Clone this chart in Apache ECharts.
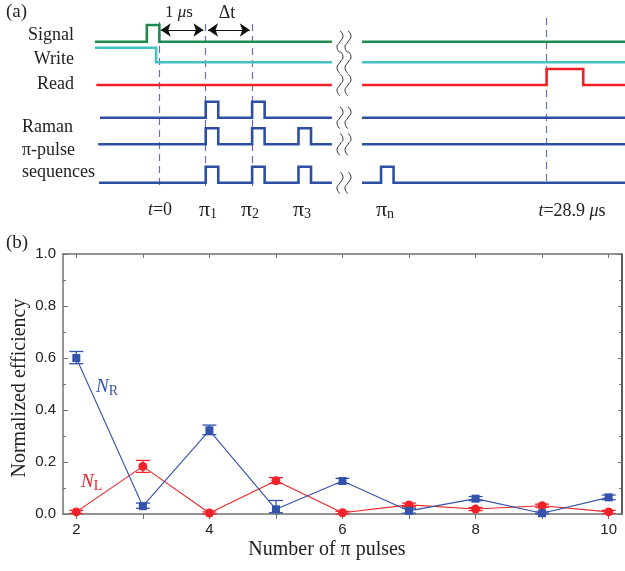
<!DOCTYPE html>
<html><head><meta charset="utf-8">
<script src="https://cdn.jsdelivr.net/npm/echarts@6/dist/echarts.min.js"></script>
<style>html,body{margin:0;padding:0;background:#fff}#c{width:625px;height:571px}</style>
</head><body><div id="c"></div>
<script>
// ---------- (b) data ----------
const pulseCounts = [2, 3, 4, 5, 6, 7, 8, 9, 10];
const xTicks = [2, 3, 4, 5, 6, 7, 8, 9, 10];
const xLabels = [2, 4, 6, 8, 10];
const nR = [0.600, 0.030, 0.322, 0.018, 0.127, 0.012, 0.059, 0.003, 0.064];
const nRLow = [0.578, 0.022, 0.305, 0.005, 0.117, 0.003, 0.051, 0.000, 0.055];
const nRHigh = [0.625, 0.042, 0.342, 0.052, 0.137, 0.022, 0.067, 0.008, 0.073];
const nL = [0.008, 0.183, 0.004, 0.128, 0.005, 0.035, 0.019, 0.032, 0.008];
const nLLow = [0.002, 0.160, 0.000, 0.118, 0.000, 0.028, 0.013, 0.026, 0.002];
const nLHigh = [0.014, 0.206, 0.008, 0.140, 0.010, 0.042, 0.025, 0.038, 0.014];

// ---------- (a) timing data (schematic time units, 1 unit = 1 µs spacing) ----------
const tStart = [-1.39, -1.39, -1.36, -1.28, -1.32, -1.30]; // signal, write, read, raman1-3
const breakFrom = 3.72, breakTo = 4.37, tEnd = 10.1;
const signalPulses = [[-0.27, 0]];
const writeFall = -0.07;
const readPulses = [[8.35, 9.14]];
const pulseWidth = 0.27;
const ramanPulseTimes = [[1, 2], [1, 2, 3], [1, 2, 3, 4.78]];
const markerTimes = [0, 1, 2, 8.35];

// layout (diagram rows, in pixel-like units of the hidden y axis)
const rowBase = [41.7, 62.3, 85, 117.7, 144.3, 182.7];
const rowAmp = [16.7, 14.6, 16, 16, 16, 16];
const rowColor = ['#1f8a50', '#44c2c2', '#ee2024', '#2d4fa3', '#2d4fa3', '#2d4fa3'];

function wave(start, pulses, base, amp, initLevel) {
  const lvl = v => base - v * amp;
  const segs = [[], []];
  const ranges = [[start, breakFrom], [breakTo, tEnd]];
  ranges.forEach((r, i) => {
    const s = segs[i];
    let cur = initLevel;
    s.push([r[0], lvl(cur)]);
    pulses.forEach(p => {
      if (p[0] >= r[0] && p[1] <= r[1]) {
        s.push([p[0], lvl(cur)]); cur = 1 - cur; s.push([p[0], lvl(cur)]);
        s.push([p[1], lvl(cur)]); cur = 1 - cur; s.push([p[1], lvl(cur)]);
      }
    });
    s.push([r[1], lvl(cur)]);
  });
  return segs;
}
function edgeWave(start, fall, base, amp) {
  const lvl = v => base - v * amp;
  return [
    [[start, lvl(1)], [fall, lvl(1)], [fall, lvl(0)], [breakFrom, lvl(0)]],
    [[breakTo, lvl(0)], [tEnd, lvl(0)]]
  ];
}

const waves = [];
waves.push(wave(tStart[0], signalPulses, rowBase[0], rowAmp[0], 0));
waves.push(edgeWave(tStart[1], writeFall, rowBase[1], rowAmp[1]));
waves.push(wave(tStart[2], readPulses, rowBase[2], rowAmp[2], 0));
ramanPulseTimes.forEach((pt, i) => {
  waves.push(wave(tStart[3 + i], pt.map(t => [t, t + pulseWidth]), rowBase[3 + i], rowAmp[3 + i], 0));
});

const series = [];
waves.forEach((segs, i) => {
  segs.forEach(seg => {
    series.push({
      type: 'line', xAxisIndex: 0, yAxisIndex: 0, data: seg, symbol: 'none', silent: true,
      lineStyle: { color: rowColor[i], width: 2.6, join: 'miter', cap: 'butt' }, animation: false
    });
  });
});
series.push({
  type: 'lines', coordinateSystem: 'cartesian2d', xAxisIndex: 0, yAxisIndex: 0, silent: true, animation: false,
  lineStyle: { color: '#6c6cb0', width: 1.2, type: [7, 5], opacity: 1 },
  data: markerTimes.map((t, i) => ({ coords: [[t, i === 3 ? 18 : (i === 0 ? 22 : 24)], [t, 186]] }))
});
series.push({
  type: 'lines', coordinateSystem: 'cartesian2d', xAxisIndex: 0, yAxisIndex: 0, silent: true, animation: false,
  symbol: ['arrow', 'arrow'], symbolSize: [10, 10],
  lineStyle: { color: '#111', width: 1.2, opacity: 1 },
  data: [{ coords: [[0.03, 30], [0.95, 30]] }, { coords: [[1.05, 30], [1.95, 30]] }]
});

// ---------- (b) series ----------
const NR_COLOR = '#3352ab', NL_COLOR = '#ee2228';
function errSeries(low, high, color, name) {
  return {
    type: 'custom', name, xAxisIndex: 1, yAxisIndex: 1, silent: true, animation: false, z: 3,
    data: pulseCounts.map((x, i) => [x, low[i], high[i]]),
    renderItem: (params, api) => {
      const x = api.value(0);
      const lo = api.coord([x, api.value(1)]);
      const hi = api.coord([x, api.value(2)]);
      const w = 7;
      const st = { stroke: color, lineWidth: 1.3 };
      return { type: 'group', children: [
        { type: 'line', shape: { x1: lo[0], y1: lo[1], x2: hi[0], y2: hi[1] }, style: st },
        { type: 'line', shape: { x1: lo[0] - w, y1: lo[1], x2: lo[0] + w, y2: lo[1] }, style: st },
        { type: 'line', shape: { x1: hi[0] - w, y1: hi[1], x2: hi[0] + w, y2: hi[1] }, style: st }
      ]};
    }
  };
}
series.push(errSeries(nLLow, nLHigh, NL_COLOR, 'NLerr'));
series.push(errSeries(nRLow, nRHigh, NR_COLOR, 'NRerr'));
series.push({
  type: 'line', name: 'NL', xAxisIndex: 1, yAxisIndex: 1, animation: false, z: 4,
  data: pulseCounts.map((x, i) => [x, nL[i]]),
  symbol: 'circle', symbolSize: 9, itemStyle: { color: NL_COLOR },
  lineStyle: { color: NL_COLOR, width: 1.1 }
});
series.push({
  type: 'line', name: 'NR', xAxisIndex: 1, yAxisIndex: 1, animation: false, z: 5,
  data: pulseCounts.map((x, i) => [x, nR[i]]),
  symbol: 'rect', symbolSize: 8, itemStyle: { color: NR_COLOR },
  lineStyle: { color: NR_COLOR, width: 1.1 }
});

const serif = 'Liberation Serif, Times New Roman, serif';
const sans = 'Liberation Sans, Arial, sans-serif';
const AX = '#707070';

// ---------- graphics ----------
const graphic = [];
function txt(x, y, text, opts) {
  graphic.push(Object.assign({ type: 'text', x, y, silent: true, style: Object.assign({
    text, fontFamily: serif, fontSize: 18, fill: '#222', align: 'left', verticalAlign: 'middle'
  }, opts || {}) }));
}
txt(6, 12, '(a)', { fontSize: 19 });
txt(74, 35, 'Signal', { align: 'right' });
txt(74, 59, 'Write', { align: 'right' });
txt(74, 84, 'Read', { align: 'right' });
txt(22, 127, 'Raman');
txt(22, 150, 'π-pulse');
txt(22, 172, 'sequences');
const rich = {
  n: { fontFamily: serif, fontSize: 17, fill: '#222' },
  m: { fontFamily: serif, fontSize: 18, fill: '#222' },
  i: { fontFamily: serif, fontSize: 17, fontStyle: 'italic', fill: '#222' },
  j: { fontFamily: serif, fontSize: 18, fontStyle: 'italic', fill: '#222' },
  p: { fontFamily: serif, fontSize: 22, fill: '#222' },
  s: { fontFamily: serif, fontSize: 14, fill: '#222', padding: [9, 0, 0, 0] }
};
txt(179, 13, '{n|1 }{i|μ}{n|s}', { align: 'center', rich });
txt(227, 13, 'Δt', { align: 'center', fontSize: 18 });
txt(160, 210, '{j|t}{m|=0}', { align: 'center', rich });
txt(208, 210, '{p|π}{s|1}', { align: 'center', rich });
txt(250, 210, '{p|π}{s|2}', { align: 'center', rich });
txt(302, 210, '{p|π}{s|3}', { align: 'center', rich });
txt(385, 210, '{p|π}{s|n}', { align: 'center', rich });
txt(572, 211, '{j|t}{m|=28.9 }{j|μ}{m|s}', { align: 'center', rich });
rowBase.forEach((yc) => {
  [340, 348].forEach(xc => {
    const pts = [];
    for (let k = 0; k <= 4; k++) pts.push([xc + (k % 2 === 0 ? 0 : (k === 1 ? 3 : -3)), yc - 11 + k * 5.5]);
    graphic.push({ type: 'polyline', silent: true, shape: { points: pts, smooth: 0.6 },
      style: { stroke: '#333', lineWidth: 1, fill: null } });
  });
});
txt(6, 243, '(b)', { fontSize: 19 });
const richN = (c) => ({
  i: { fontFamily: serif, fontSize: 19, fontStyle: 'italic', fill: c },
  s: { fontFamily: serif, fontSize: 14, fill: c, padding: [9, 0, 0, 0] }
});
txt(96, 387, '{i|N}{s|R}', { rich: richN(NR_COLOR) });
txt(81, 482, '{i|N}{s|L}', { rich: richN(NL_COLOR) });
txt(327, 550, 'Number of π pulses', { align: 'center', fontSize: 20 });
graphic.push({ type: 'text', x: 20, y: 388, rotation: Math.PI / 2, silent: true,
  style: { text: 'Normalized efficiency', fontFamily: serif, fontSize: 20, fill: '#222', align: 'center', verticalAlign: 'middle' } });

const option = {
  animation: false,
  backgroundColor: '#fff',
  grid: [
    { left: 0, top: 0, width: 625, height: 200 },
    { left: 63, top: 254, right: 3, bottom: 57 }
  ],
  xAxis: [
    { gridIndex: 0, type: 'value', min: -3.436, max: 10.04, show: false },
    { gridIndex: 1, type: 'value', min: 1.8, max: 10.2, position: 'bottom',
      axisLine: { onZero: false, lineStyle: { color: AX, width: 1.5 } },
      axisTick: { customValues: xTicks, length: 5, inside: false, lineStyle: { color: AX } },
      axisLabel: { customValues: xLabels, fontFamily: sans, fontSize: 15, color: '#222', margin: 8 },
      splitLine: { show: false } },
    { gridIndex: 1, type: 'value', min: 1.8, max: 10.2, position: 'top',
      axisLine: { onZero: false, lineStyle: { color: AX, width: 1.5 } },
      axisTick: { customValues: xTicks, length: 4, inside: true, lineStyle: { color: AX } },
      axisLabel: { show: false }, splitLine: { show: false } }
  ],
  yAxis: [
    { gridIndex: 0, type: 'value', min: 0, max: 200, inverse: true, show: false },
    { gridIndex: 1, type: 'value', min: 0, max: 1, interval: 0.2, position: 'left',
      axisLine: { show: true, onZero: false, lineStyle: { color: AX, width: 1.5 } },
      axisTick: { show: true, inside: true, length: 5, lineStyle: { color: AX } },
      minorTick: { show: true, splitNumber: 2, length: 3, lineStyle: { color: AX } },
      axisLabel: { fontFamily: sans, fontSize: 15, color: '#222', margin: 7, formatter: v => v.toFixed(1) },
      splitLine: { show: false } },
    { gridIndex: 1, type: 'value', min: 0, max: 1, interval: 0.2, position: 'right',
      axisLine: { show: true, onZero: false, lineStyle: { color: '#222', width: 1.5 } },
      axisTick: { show: true, inside: true, length: 4, lineStyle: { color: AX } },
      minorTick: { show: true, splitNumber: 2, length: 3, lineStyle: { color: AX } },
      axisLabel: { show: false }, splitLine: { show: false } }
  ],
  series,
  graphic
};
const chart = echarts.init(document.getElementById('c'), null, { renderer: 'canvas' });
chart.setOption(option);
</script></body></html>
